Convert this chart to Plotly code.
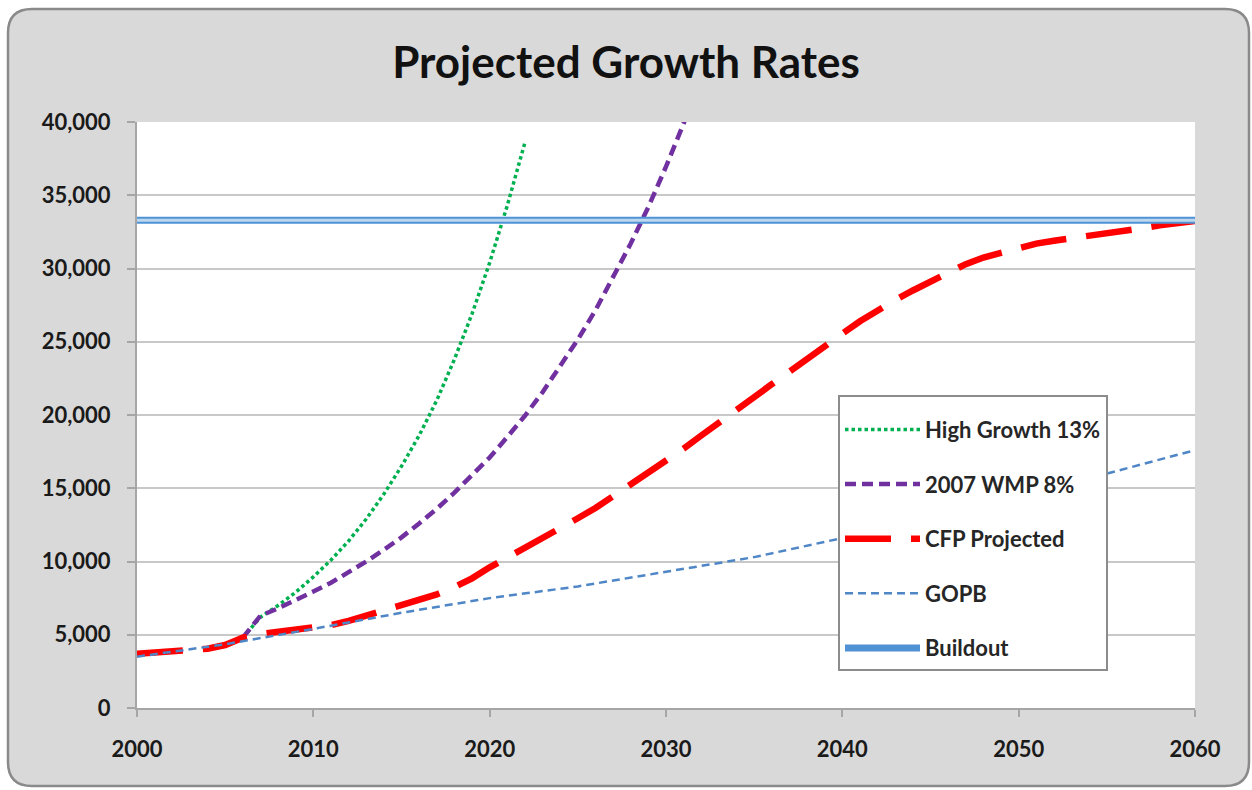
import plotly.graph_objects as go

# ---------------- data ----------------
high_years = list(range(2006, 2023))
high_vals = [4800, 6200, 7000, 7900, 8950, 10100, 11400, 12900, 14600, 16500,
             18600, 21000, 23800, 26900, 30400, 34300, 38600]

wmp_years = list(range(2006, 2033))
wmp_vals = [4800, 6300, 6800, 7350, 7950, 8550, 9250, 10000, 10800, 11650,
            12600, 13600, 14700, 15850, 17100, 18500, 19950, 21550, 23300, 25150,
            27150, 29350, 31700, 34200, 36950, 39900, 43100]

cfp_years = list(range(2000, 2061))
cfp_vals = [3700, 3800, 3900, 3950, 4050, 4300, 4800, 5050, 5200, 5350,
            5450, 5650, 5950, 6300, 6600, 6950, 7300, 7750, 8250, 8850,
            9600, 10250, 10900, 11550, 12250, 12950, 13650, 14450, 15250, 16100,
            16850, 17700, 18600, 19500, 20400, 21250, 22100, 22950, 23850, 24700,
            25550, 26400, 27150, 27850, 28500, 29100, 29650, 30300, 30750, 31100,
            31450, 31700, 31900, 32050, 32250, 32450, 32600, 32750, 32950, 33100,
            33250]

gopb_years = [2000, 2005, 2010, 2015, 2020, 2025, 2030, 2035, 2040, 2045, 2050, 2055, 2060]
gopb_vals = [3500, 4350, 5400, 6500, 7500, 8300, 9300, 10300, 11600, 13000, 14500, 16000, 17600]

buildout_years = [2000, 2060]
buildout_vals = [33300, 33300]

x_ticks = [2000, 2010, 2020, 2030, 2040, 2050, 2060]
y_ticks = [0, 5000, 10000, 15000, 20000, 25000, 30000, 35000, 40000]

# ---------------- layout geometry ----------------
W, H = 1252, 790
L, R, T, B = 137, 57, 122, 82
pw, ph = W - L - R, H - T - B


def px(x):
    return (x - L) / pw


def py(y):
    return (H - B - y) / ph


FONT = "Lato"

fig = go.Figure()

fig.add_trace(go.Scatter(x=high_years, y=high_vals, mode="lines", name="High Growth 13%",
                         legendgroup="g1",
                         line=dict(color="#00B050", width=3.5, dash="3.5px,3px")))
fig.add_trace(go.Scatter(x=wmp_years, y=wmp_vals, mode="lines", name="2007 WMP 8%",
                         legendgroup="g2",
                         line=dict(color="#7030A0", width=4.5, dash="11px,6px")))
fig.add_trace(go.Scatter(x=cfp_years, y=cfp_vals, mode="lines", name="CFP Projected",
                         legendgroup="g3",
                         line=dict(color="#FF0000", width=6.5, dash="46px,20px")))
fig.add_trace(go.Scatter(x=gopb_years, y=gopb_vals, mode="lines", name="GOPB",
                         legendgroup="g4",
                         line=dict(color="#4F86C6", width=2.5, dash="8px,5px")))
fig.add_trace(go.Scatter(x=buildout_years, y=buildout_vals, mode="lines", name="Buildout",
                         legendgroup="g5",
                         line=dict(color="#4F93D6", width=7)))
fig.add_trace(go.Scatter(x=buildout_years, y=buildout_vals, mode="lines", showlegend=False,
                         legendgroup="g5", hoverinfo="skip",
                         line=dict(color="#BDD7EE", width=3)))

# rounded gray frame
x0, x1, y0, y1, r = 8, 1249, 9, 786, 24
frame_path = (
    f"M {px(x0 + r)},{py(y0)} L {px(x1 - r)},{py(y0)} "
    f"Q {px(x1)},{py(y0)} {px(x1)},{py(y0 + r)} "
    f"L {px(x1)},{py(y1 - r)} Q {px(x1)},{py(y1)} {px(x1 - r)},{py(y1)} "
    f"L {px(x0 + r)},{py(y1)} Q {px(x0)},{py(y1)} {px(x0)},{py(y1 - r)} "
    f"L {px(x0)},{py(y0 + r)} Q {px(x0)},{py(y0)} {px(x0 + r)},{py(y0)} Z"
)
fig.add_shape(type="path", path=frame_path, xref="paper", yref="paper",
              fillcolor="#D9D9D9", line=dict(color="#8A8A8A", width=2.5), layer="below")
fig.add_shape(type="rect", x0=0, x1=1, y0=0, y1=1, xref="paper", yref="paper",
              fillcolor="white", line=dict(width=0), layer="below")

tickfont = dict(family=FONT, size=22, color="#1A1A1A", weight=700)

fig.update_layout(
    width=W, height=H,
    margin=dict(l=L, r=R, t=T, b=B, pad=0),
    paper_bgcolor="white",
    plot_bgcolor="white",
    title=dict(text="Projected Growth Rates", x=0.5, xref="container", xanchor="center",
               y=1 - 63 / H, yref="container", yanchor="middle",
               font=dict(family=FONT, size=44, color="#111111", weight=700)),
    xaxis=dict(range=[2000, 2060], tickvals=x_ticks, ticks="outside", ticklen=7,
               tickwidth=1.5, tickcolor="#A6A6A6", showline=True, linecolor="#A6A6A6",
               linewidth=2, showgrid=False, zeroline=False, tickfont=tickfont,
               ticklabelstandoff=14),
    yaxis=dict(range=[0, 40000], tickvals=y_ticks, tickformat=",", ticks="outside",
               ticklen=8, tickwidth=1.5, tickcolor="#A6A6A6", showline=True,
               linecolor="#A6A6A6", linewidth=2, showgrid=True, gridcolor="#C8C8C8",
               gridwidth=2, zeroline=False, tickfont=tickfont, ticklabelstandoff=12),
    legend=dict(x=px(838), y=py(395), xanchor="left", yanchor="top",
                bgcolor="white", bordercolor="#8C8C8C", borderwidth=2,
                font=dict(family=FONT, size=22, color="#262626", weight=700),
                title=dict(text="&nbsp;", font=dict(size=9)),
                traceorder="grouped", tracegroupgap=23, itemwidth=75),
    showlegend=True,
)

fig.write_html("out.html")
